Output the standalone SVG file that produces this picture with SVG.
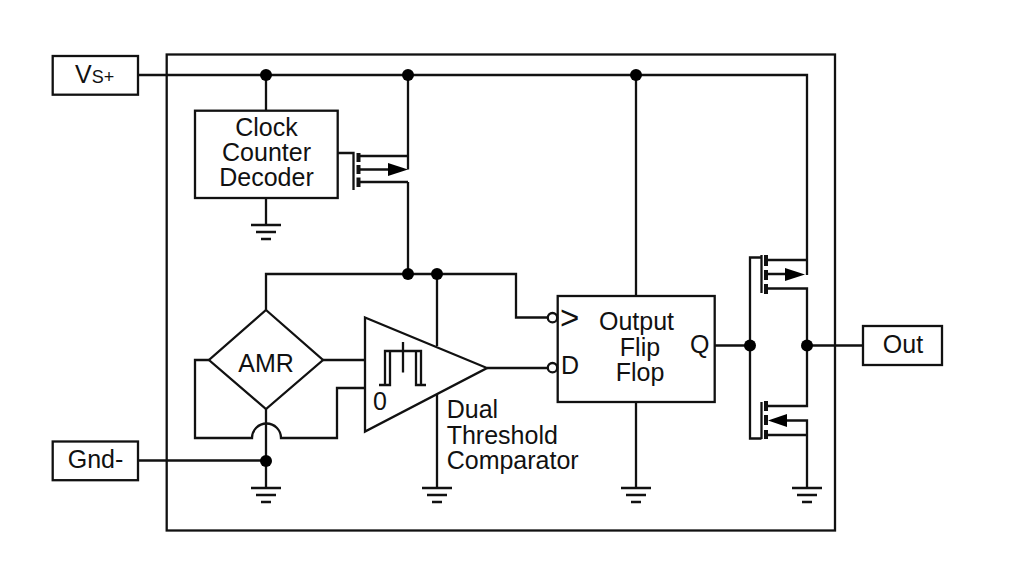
<svg xmlns="http://www.w3.org/2000/svg" width="1010" height="581" viewBox="0 0 1010 581">
<style>
.s{fill:none;stroke:#111;stroke-width:2.300;stroke-linecap:butt;stroke-linejoin:miter}
.b{fill:#fff;stroke:#111;stroke-width:2.300}
.t{font-family:"Liberation Sans",Arial,sans-serif;font-size:25px;fill:#111}
.m{text-anchor:middle}
.d{fill:#000}
.a{fill:#000}
.c{fill:#fff;stroke:#111;stroke-width:2.300}
.h{fill:none;stroke:#111;stroke-width:4}
</style>
<defs>
<g id="gnd"><path class="s" d="M-15 0H15M-10 7H10M-5 14H5"/></g>
</defs>
<rect fill="#fff" width="1010" height="581"/>
<g id="chip-boundary"><rect class="s" x="166.7" y="54.5" width="668.3" height="476"/></g>
<g id="connectors">
<path class="s" d="M138 75H807V275"/>
<path class="s" d="M266 75V111M408 75V169.500M408 182V274M636 75V296"/>
<path class="s" d="M266 198V225"/>
<path class="s" d="M266 310V274H516V317.500H548"/>
<path class="s" d="M437 274V346M437 394V488"/>
<path class="s" d="M209 360H195V438H252A14.500 14.500 0 0 1 281 438H337V388H365M323 360H365"/>
<path class="s" d="M266 409V488M138 460.500H266"/>
<path class="s" d="M487 368H548"/>
<path class="s" d="M636 402V488"/>
<path class="s" d="M714.700 345.500H750M807 345.500H863"/>
<path class="s" d="M338 153H353.500V190"/>
<path class="s" d="M358 156H408M358 169.500H395M358 182H408"/>
<path class="s" d="M750 345.500V257.500H761.500M761.500 255V293M766 260H807M766 274H790M766 288.500H807V406H766M750 345.500V438.500H761.500M761.500 402V439M772 420.500H807V488M766 435H807"/>
<path class="h" d="M358.500 153V162M358.500 165V174M358.500 177.500V187"/>
<path class="h" d="M766 255V266M766 270V280M766 284V294M766 401V411M766 415V425M766 430V439"/>
</g>
<g id="arrowheads">
<polygon class="a" points="388,163 408,169.500 388,176"/>
<polygon class="a" points="785,268 805,274.500 785,281"/>
<polygon class="a" points="768,420.500 787,414 787,427"/>
</g>
<g id="junctions">
<circle class="d" cx="266" cy="75" r="6"/><circle class="d" cx="408" cy="75" r="6"/><circle class="d" cx="636" cy="75" r="6"/>
<circle class="d" cx="408" cy="274" r="6"/><circle class="d" cx="437" cy="274" r="6"/><circle class="d" cx="266" cy="461" r="6"/>
<circle class="d" cx="750" cy="345.500" r="6"/><circle class="d" cx="807" cy="345.500" r="6"/>
</g>
<g id="grounds">
<use href="#gnd" x="266" y="225"/><use href="#gnd" x="266" y="488"/><use href="#gnd" x="437" y="488"/><use href="#gnd" x="636" y="488"/><use href="#gnd" x="807" y="488"/>
</g>
<g id="vs"><rect class="b" x="52.700" y="56" width="85.300" height="38.700"/><text class="t" x="75" y="83">V<tspan font-size="18">S+</tspan></text></g>
<g id="gnd-pin"><rect class="b" x="52.700" y="441.500" width="85.300" height="38.700"/><text class="t m" x="95.500" y="468">Gnd-</text></g>
<g id="out"><rect class="b" x="863" y="326" width="79" height="39"/><text class="t m" x="903" y="352.700">Out</text></g>
<g id="clock"><rect class="b" x="195" y="110.700" width="142.700" height="87.300"/><text class="t m" x="266.500" y="135.700">Clock</text><text class="t m" x="266.500" y="161">Counter</text><text class="t m" x="266.500" y="185.700">Decoder</text></g>
<g id="amr"><polygon class="b" points="266,310 323,360 266,409 209,360"/><text class="t m" x="266" y="371.700">AMR</text></g>
<g id="comparator"><polygon class="b" points="365,317.500 487,368 365,431.500"/><path class="s" d="M379 385H390V351M385 385V351H421V385M416 351V385H426M403 342V372.500"/><text class="t" x="373" y="410">0</text><text class="t" x="446.700" y="418">Dual</text><text class="t" x="446.700" y="444">Threshold</text><text class="t" x="446.700" y="469">Comparator</text></g>
<g id="flipflop"><rect class="b" x="557.700" y="296" width="157" height="106"/><circle class="c" cx="552.500" cy="317.700" r="4.700"/><circle class="c" cx="552.500" cy="367.700" r="4.700"/><text class="t" x="560" y="329" font-size="33" style="font-size:33px">&gt;</text><text class="t" x="561" y="374">D</text><text class="t m" x="636.500" y="329.500">Output</text><text class="t m" x="640" y="355.700">Flip</text><text class="t m" x="640" y="380.700">Flop</text><text class="t" x="690" y="353">Q</text></g>
</svg>
